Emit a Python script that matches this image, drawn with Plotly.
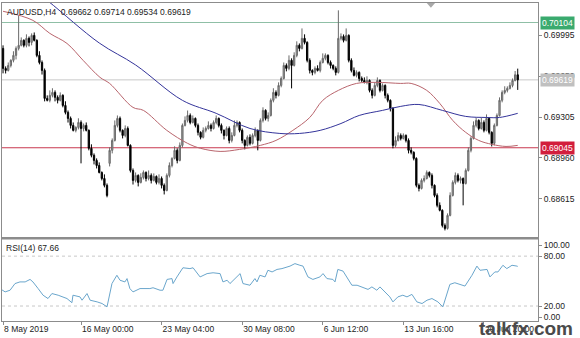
import plotly.graph_objects as go

# ---------------- data (prices in 1e-5 units) ----------------
open_pts = [
    69885, 69716, 69699, 69741, 69784, 69826, 69885, 69911, 69953, 69911,
    69970, 69936, 69995, 69953, 69826, 69766, 69699, 69462, 69446, 69488,
    69513, 69471, 69446, 69488, 69403, 69344, 69293, 69234, 69192, 69217,
    69259, 69208, 69234, 69192, 69040, 68981, 68938, 68895, 68836, 68785,
    68727, 68913, 69023, 69107, 69234, 69293, 69192, 69149, 69208, 69065,
    68853, 68769, 68811, 68752, 68794, 68836, 68785, 68811, 68769, 68802,
    68752, 68785, 68727, 68684, 68811, 68895, 68955, 69023, 68938, 69065,
    69234, 69276, 69318, 69259, 69293, 69234, 69175, 69133, 69192, 69208,
    69234, 69208, 69259, 69293, 69234, 69192, 69149, 69208, 69107, 69149,
    69234, 69259, 69192, 69107, 69065, 69133, 69082, 69149, 69192, 69107,
    69276, 69361, 69293, 69318, 69446, 69513, 69488, 69572, 69631, 69741,
    69716, 69784, 69741, 69826, 69911, 69885, 69970, 69936, 69784, 69699,
    69682, 69716, 69699, 69766, 69801, 69826, 69766, 69741, 69716, 69682,
    69970, 69986, 69953, 69995, 69784, 69699, 69657, 69682, 69631, 69614,
    69598, 69614, 69530, 69488, 69572, 69614, 69530, 69572, 69488, 69446,
    69378, 69065, 69107, 69149, 69124, 69149, 69107, 69023, 69006, 68955,
    68727, 68701, 68769, 68785, 68836, 68811, 68727, 68642, 68558, 68516,
    68388, 68363, 68473, 68642, 68752, 68811, 68769, 68785, 68743, 68853,
    69023, 69124, 69234, 69276, 69208, 69259, 69192, 69293, 69175, 69082,
    69234, 69318, 69446, 69513, 69530, 69547, 69572, 69614, 69662,
]
high_pts = [
    69911, 69733, 69766, 69793, 69861, 69902, 70164, 69978, 69962, 70004,
    69986, 70012, 70020, 69962, 69861, 69783, 69715, 69488, 69530, 69548,
    69530, 69488, 69513, 69497, 69438, 69360, 69309, 69259, 69226, 69294,
    69276, 69250, 69259, 69200, 69074, 68997, 68955, 68921, 68845, 68820,
    68743, 69048, 69124, 69276, 69318, 69309, 69200, 69234, 69225, 69074,
    68870, 68836, 68820, 68829, 68853, 68845, 68853, 68828, 68828, 68811,
    68820, 68802, 68743, 68828, 68921, 68964, 69057, 69040, 69090, 69250,
    69310, 69360, 69335, 69318, 69301, 69250, 69184, 69217, 69225, 69268,
    69250, 69276, 69318, 69301, 69250, 69200, 69225, 69225, 69175, 69276,
    69276, 69268, 69208, 69116, 69149, 69158, 69166, 69217, 69200, 69293,
    69387, 69370, 69344, 69462, 69548, 69530, 69598, 69648, 69766, 69758,
    69826, 69801, 69852, 69945, 69927, 70054, 70004, 69945, 69801, 69708,
    69733, 69742, 69783, 69843, 69843, 69835, 69783, 69750, 69733, 70207,
    70012, 70003, 70054, 70004, 69801, 69724, 69699, 69691, 69648, 69640,
    69649, 69623, 69547, 69598, 69640, 69623, 69589, 69581, 69504, 69454,
    69387, 69141, 69175, 69166, 69166, 69158, 69124, 69048, 69015, 68964,
    68743, 68785, 68811, 68853, 68845, 68828, 68735, 68659, 68583, 68524,
    68405, 68490, 68668, 68769, 68836, 68828, 68802, 68794, 68870, 69048,
    69141, 69268, 69301, 69285, 69301, 69276, 69327, 69301, 69184, 69250,
    69335, 69471, 69530, 69565, 69564, 69598, 69631, 69694, 69714,
]
low_pts = [
    69674, 69673, 69690, 69724, 69767, 69792, 69868, 69902, 69894, 69894,
    69902, 69911, 69944, 69810, 69750, 69664, 69437, 69437, 69429, 69471,
    69437, 69420, 69437, 69387, 69327, 69258, 69208, 69183, 69175, 69200,
    68913, 69183, 69183, 69023, 68964, 68904, 68870, 68828, 68769, 68710,
    68626, 68887, 68997, 69098, 69217, 69175, 69124, 69133, 69056, 68836,
    68734, 68752, 68718, 68743, 68777, 68760, 68769, 68743, 68760, 68735,
    68735, 68701, 68650, 68676, 68794, 68879, 68946, 68913, 68930, 69048,
    69225, 69259, 69243, 69250, 69217, 69149, 69116, 69124, 69175, 69199,
    69183, 69199, 69243, 69217, 69166, 69115, 69141, 69082, 69090, 69141,
    69217, 69175, 69082, 69031, 69056, 69065, 69073, 69133, 69023, 69098,
    69259, 69276, 69267, 69309, 69429, 69462, 69479, 69556, 69622, 69691,
    69700, 69547, 69732, 69810, 69860, 69876, 69919, 69767, 69673, 69657,
    69666, 69690, 69682, 69758, 69784, 69750, 69715, 69700, 69657, 69673,
    69953, 69936, 69944, 69767, 69682, 69648, 69640, 69606, 69598, 69589,
    69581, 69513, 69462, 69479, 69556, 69513, 69521, 69462, 69429, 69352,
    69040, 69048, 69098, 69107, 69115, 69090, 68997, 68989, 68938, 68710,
    68676, 68692, 68752, 68777, 68794, 68701, 68626, 68541, 68507, 68371,
    68346, 68353, 68465, 68633, 68735, 68752, 68743, 68558, 68734, 68844,
    69006, 69115, 69217, 69192, 69199, 69175, 69183, 69158, 69056, 69065,
    69225, 69309, 69429, 69497, 69513, 69538, 69556, 69606, 69534,
]
close_pts = [
    69716, 69699, 69741, 69784, 69826, 69885, 69911, 69953, 69911, 69970,
    69936, 69995, 69953, 69826, 69766, 69699, 69462, 69446, 69488, 69513,
    69471, 69446, 69488, 69403, 69344, 69293, 69234, 69192, 69217, 69259,
    69208, 69234, 69192, 69040, 68981, 68938, 68895, 68836, 68785, 68727,
    68642, 69023, 69107, 69234, 69293, 69192, 69149, 69208, 69065, 68853,
    68769, 68811, 68752, 68794, 68836, 68785, 68811, 68769, 68802, 68752,
    68785, 68727, 68684, 68811, 68895, 68955, 69023, 68938, 69065, 69234,
    69276, 69318, 69259, 69293, 69234, 69175, 69133, 69192, 69208, 69234,
    69208, 69259, 69293, 69234, 69192, 69149, 69208, 69107, 69149, 69234,
    69259, 69192, 69107, 69065, 69133, 69082, 69149, 69192, 69107, 69276,
    69361, 69293, 69318, 69446, 69513, 69488, 69572, 69631, 69741, 69716,
    69784, 69741, 69826, 69911, 69885, 69970, 69936, 69784, 69699, 69682,
    69716, 69699, 69766, 69801, 69826, 69766, 69741, 69716, 69682, 69970,
    69986, 69953, 69995, 69784, 69699, 69657, 69682, 69631, 69614, 69598,
    69614, 69530, 69488, 69572, 69614, 69530, 69572, 69488, 69446, 69378,
    69065, 69107, 69149, 69124, 69149, 69107, 69023, 69006, 68955, 68727,
    68701, 68769, 68785, 68836, 68811, 68727, 68642, 68558, 68516, 68388,
    68363, 68473, 68642, 68752, 68811, 68769, 68785, 68743, 68853, 69023,
    69124, 69234, 69276, 69208, 69259, 69192, 69293, 69175, 69082, 69234,
    69318, 69446, 69513, 69530, 69547, 69572, 69614, 69662, 69619,
]

# moving averages (bar index, price points)
ma_red_idx = [0, 11.5, 18, 24.6, 30.8, 37.3, 41, 50, 54, 63, 71, 76, 83.5, 91, 99, 105,
              111.5, 118, 123, 129, 136, 143.5, 153, 157, 163, 168, 173, 178, 183, 188,
              193.5, 198]
ma_red = [70199, 70122, 70012, 69927, 69784, 69640, 69589, 69386, 69361, 69192, 69082,
          69040, 69014, 69031, 69065, 69107, 69192, 69301, 69446, 69530, 69589, 69598,
          69589, 69589, 69530, 69420, 69276, 69175, 69107, 69074, 69056, 69065]
ma_blue_idx = [0, 17, 37, 51, 69, 82, 95, 106.5, 114, 122, 130, 137, 146, 153, 160, 169,
               178, 186, 191, 198]
ma_blue = [70579, 70291, 69931, 69745, 69446, 69336, 69208, 69166, 69166, 69192, 69250,
           69318, 69361, 69395, 69411, 69361, 69310, 69301, 69301, 69336]

# RSI(14)
rsi_idx = [-1.2, 0.8, 2.7, 4.6, 6.5, 8.5, 10.4, 11.5, 13.5, 15.4, 17.3, 18.8, 21.2, 24.6,
           26.5, 26.9, 29.6, 30.4, 32.3, 33.5, 36.2, 38.1, 40, 41.2, 41.9, 43.8, 45, 46.9,
           47.7, 48.8, 50, 52.7, 56.5, 57.7, 60.4, 61.5, 63.1, 65, 65.4, 66.9, 69.2, 71.9,
           73.1, 75.8, 78.5, 80.8, 83.5, 84.6, 86.2, 87.3, 90, 91.2, 92.3, 95, 96.9, 97.7,
           98.8, 100.8, 101.9, 103.5, 105.4, 107.3, 110.4, 112.3, 114.2, 115.4, 117.3,
           119.2, 121.9, 123.1, 124.6, 126.9, 127.7, 128.8, 130.8, 132.3, 134.2, 136.2,
           138.1, 140.4, 141.9, 143.8, 145, 146.9, 148.8, 150, 151.9, 153.8, 155.4, 157.3,
           159.2, 161.2, 163.1, 165, 167.3, 169.2, 170.8, 171.9, 173.8, 176.5, 177.7,
           180.4, 182.3, 183.5, 186.2, 187.3, 189.2, 190.4, 192.3, 193.8, 195.8, 197.7, 198]
rsi_val = [41, 37, 39, 47, 49, 49, 52, 49, 41, 33, 29, 35, 33, 29,
           24, 33, 31, 27, 35, 27, 25, 23, 19, 35, 47, 57, 51, 49,
           53, 41, 37, 41, 41, 42, 39, 39, 52, 53, 47, 55, 66, 65,
           66, 55, 59, 60, 59, 49, 51, 47, 55, 59, 47, 45, 53, 49,
           57, 55, 63, 61, 64, 65, 68, 71, 69, 68, 55,
           52, 55, 59, 53, 52, 49, 64, 62, 55, 45, 45,
           43, 40, 43, 39, 43, 37, 31, 25, 31, 33, 31, 34,
           25, 23, 27, 29, 25, 19, 35, 46, 48, 45, 44,
           57, 68, 63, 64, 55, 61, 61, 69, 65, 69, 68, 67.66]

level_green = 0.70104
level_red = 0.69045
price_tick0 = 0.68615
price_dtick = 0.00345
rsi_ticks = [93.2, 80, 20, 6.8]
rsi_tick_text = ["100.00", "80.00", "20.00", "0.00"]
rsi_levels = [80, 20]
date_idx = [0, 30, 61, 92, 123, 154, 185]
date_labels = ["8 May 2019", "16 May 00:00", "23 May 04:00", "30 May 08:00",
               "6 Jun 12:00", "13 Jun 16:00", "20 Jun 20:00"]
symbol = "AUDUSD,H4"

# ---------------- figure ----------------
S = 1e5
o = [v / S for v in open_pts]
h = [v / S for v in high_pts]
l = [v / S for v in low_pts]
c = [v / S for v in close_pts]
idx = list(range(len(c)))

FONT = "Liberation Sans"
AX = "#8c8c8c"
TXT = "#222222"

fig = go.Figure()
fig.add_trace(go.Scatter(x=ma_red_idx, y=[v / S for v in ma_red], mode="lines",
                         line=dict(color="#b8646c", width=1, shape="spline"),
                         xaxis="x", yaxis="y", hoverinfo="skip"))
fig.add_trace(go.Scatter(x=ma_blue_idx, y=[v / S for v in ma_blue], mode="lines",
                         line=dict(color="#34349a", width=1, shape="spline"),
                         xaxis="x", yaxis="y", hoverinfo="skip"))
fig.add_trace(go.Candlestick(
    x=idx, open=o, high=h, low=l, close=c, xaxis="x", yaxis="y",
    increasing=dict(fillcolor="#a0a0a0", line=dict(color="#6a6a6a", width=1)),
    decreasing=dict(fillcolor="#000000", line=dict(color="#000000", width=1)),
    whiskerwidth=0,
))
fig.add_trace(go.Scatter(x=rsi_idx, y=rsi_val, mode="lines",
                         line=dict(color="#6aa6cc", width=1),
                         xaxis="x2", yaxis="y2", hoverinfo="skip"))

xr = [-0.4, 205.8]
fig.update_layout(
    width=580, height=338,
    margin=dict(l=2, r=42, t=3, b=17),
    paper_bgcolor="white", plot_bgcolor="white",
    showlegend=False,
    font=dict(family=FONT, size=8.5, color=TXT),
    xaxis=dict(domain=[0, 1], anchor="y", range=xr, showticklabels=False,
               showgrid=False, zeroline=False, showline=True, linecolor=AX,
               linewidth=1, mirror=True, ticks="", rangeslider=dict(visible=False)),
    yaxis=dict(domain=[0.2626, 1], anchor="x", side="right",
               range=[0.682861, 0.702690], tickmode="linear",
               tick0=price_tick0, dtick=price_dtick, tickformat=".5f",
               showgrid=False, zeroline=False, showline=True, linecolor=AX,
               mirror=True, ticks="outside", ticklen=3, tickcolor=AX,
               tickfont=dict(family=FONT, size=8.5, color=TXT)),
    xaxis2=dict(domain=[0, 1], anchor="y2", range=xr, matches="x",
                tickvals=date_idx, ticktext=date_labels,
                ticklabelposition="outside right",
                showgrid=False, zeroline=False, showline=True, linecolor=AX,
                mirror=True, ticks="outside", ticklen=3, tickcolor=AX,
                tickfont=dict(family=FONT, size=8.5, color=TXT)),
    yaxis2=dict(domain=[0, 0.2563], anchor="x2", side="right", range=[2, 100],
                tickvals=rsi_ticks, ticktext=rsi_tick_text,
                showgrid=False, zeroline=False, showline=True, linecolor=AX,
                mirror=True, ticks="outside", ticklen=3, tickcolor=AX,
                tickfont=dict(family=FONT, size=8.5, color=TXT)),
)

shapes = []
for lvl, col in [(level_green, "#8fbfa6"), (c[-1], "#c8c8c8"), (level_red, "#c8384f")]:
    shapes.append(dict(type="line", xref="x domain", yref="y", x0=0, x1=1, y0=lvl, y1=lvl,
                       line=dict(color=col, width=1), layer="below"))
for lvl in rsi_levels:
    shapes.append(dict(type="line", xref="x2 domain", yref="y2", x0=0, x1=1, y0=lvl, y1=lvl,
                       line=dict(color="#c8c8c8", width=1, dash="dot"), layer="below"))
shapes.append(dict(type="rect", xref="paper", yref="paper", x0=0, x1=1, y0=0.2563, y1=0.2626,
                   fillcolor=AX, line=dict(width=0)))
shapes.append(dict(type="path", xref="x", yref="paper",
                   path="M 163.0 1 L 166.2 1 L 164.6 0.985 Z",
                   fillcolor="#a8a8a8", line=dict(width=0)))
fig.update_layout(shapes=shapes)

ann = []
ann.append(dict(xref="paper", yref="paper", x=0.006, y=0.995, xanchor="left", yanchor="top",
                showarrow=False,
                text=f"{symbol}  {o[-1]:.5f} {h[-1]:.5f} {l[-1]:.5f} {c[-1]:.5f}",
                font=dict(family=FONT, size=8.5, color=TXT)))
ann.append(dict(xref="paper", yref="paper", x=0.004, y=0.2563, xanchor="left", yanchor="top",
                yshift=-2, showarrow=False, text=f"RSI(14) {rsi_val[-1]:.2f}",
                font=dict(family=FONT, size=8.5, color=TXT)))
for lvl, bg in [(level_green, "#3aaa6e"), (c[-1], "#c0c0c0"), (level_red, "#d21e3c")]:
    ann.append(dict(xref="paper", yref="y", x=1, y=lvl, xanchor="left", yanchor="middle",
                    xshift=2, showarrow=False, text=f"{lvl:.5f}", bgcolor=bg, borderpad=1,
                    font=dict(family=FONT, size=8.5, color="white")))
ann.append(dict(xref="paper", yref="paper", x=1.069, y=-0.025, xanchor="right",
                yanchor="middle", showarrow=False, text="<b>talkfx.com</b>",
                font=dict(family=FONT, size=19, color="#4a4a4a")))
fig.update_layout(annotations=ann)

fig.write_html("out.html")
